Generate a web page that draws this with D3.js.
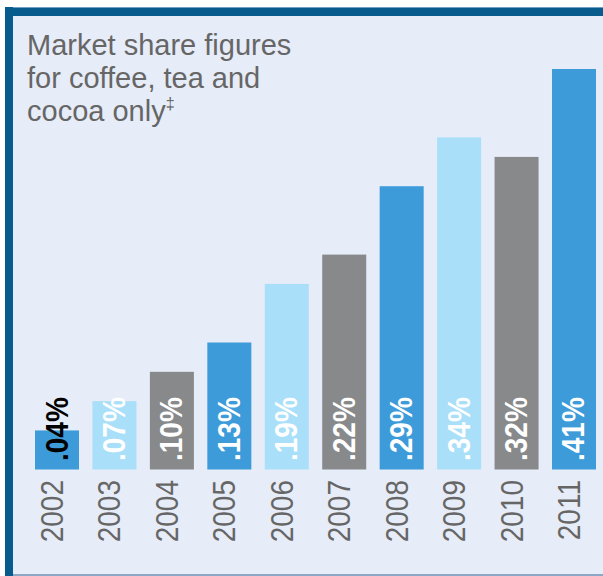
<!DOCTYPE html>
<html>
<head>
<meta charset="utf-8">
<script src="https://cdn.jsdelivr.net/npm/d3@7"></script>
<style>
html,body{margin:0;padding:0;background:#fff;}
svg{display:block;}
</style>
</head>
<body>
<svg id="chart" width="603" height="576"></svg>
<script>
const years = ["2002","2003","2004","2005","2006","2007","2008","2009","2010","2011"];
const shares = [0.04,0.07,0.10,0.13,0.19,0.22,0.29,0.34,0.32,0.41];
const valueLabels = [".04%",".07%",".10%",".13%",".19%",".22%",".29%",".34%",".32%",".41%"];
const titleLines = ["Market share figures","for coffee, tea and","cocoa only"];
const barColors = ["#3d9bd9","#aadff9","#88898b"];

const svg = d3.select("#chart");
const font = "'Liberation Sans', Arial, Helvetica, sans-serif";

// frame
svg.append("rect").attr("x",5).attr("y",7).attr("width",598).attr("height",569).attr("fill","#e6ecf8");
svg.append("rect").attr("x",5).attr("y",7).attr("width",598).attr("height",9).attr("fill","#075b8d");
svg.append("rect").attr("x",5).attr("y",7).attr("width",598).attr("height",1).attr("fill","#6f9ec2");
svg.append("rect").attr("x",5).attr("y",7).attr("width",8).attr("height",569).attr("fill","#075b8d");
svg.append("rect").attr("x",13).attr("y",574).attr("width",590).attr("height",2).attr("fill","#8ca8c6");

const x = d3.scaleBand().domain(years).range([35,596]).paddingInner(0.234).paddingOuter(0);
const y = d3.scaleLinear().domain([0,0.41]).range([469.5,69]);

const data = years.map((yr,i)=>({year:yr, v:shares[i], label:valueLabels[i], i}));

svg.append("g").selectAll("rect").data(data).join("rect")
  .attr("x",d=>x(d.year))
  .attr("y",d=>y(d.v))
  .attr("width",x.bandwidth())
  .attr("height",d=>y(0)-y(d.v))
  .attr("fill",d=>barColors[d.i%3]);

// value labels
svg.append("g").selectAll("text").data(data).join("text")
  .attr("transform",d=>`translate(${x(d.year)+x.bandwidth()/2+10.5},461) rotate(-90) scale(1,1.12)`)
  .attr("text-anchor","start")
  .attr("font-family",font)
  .attr("font-weight","bold")
  .attr("font-size",28)
  .attr("fill",d=>d.i===0?"#000":"#fff")
  .text(d=>d.label);

// year labels
svg.append("g").selectAll("text").data(data).join("text")
  .attr("transform",d=>`translate(${x(d.year)+x.bandwidth()/2+6},480) rotate(-90) scale(1,1.12)`)
  .attr("text-anchor","end")
  .attr("font-family",font)
  .attr("font-size",28)
  .attr("fill","#666")
  .text(d=>d.year);

// title
const title = svg.append("text")
  .attr("font-family",font)
  .attr("font-size",29)
  .attr("fill","#666")
  .attr("transform","translate(0,0)");
titleLines.forEach((t,i)=>{
  title.append("tspan").attr("x",27).attr("y",54.5+i*33.3).text(t);
  if(i===titleLines.length-1){
    title.append("tspan").attr("font-size",16).attr("dy",-12).text("‡");
  }
});
</script>
</body>
</html>
